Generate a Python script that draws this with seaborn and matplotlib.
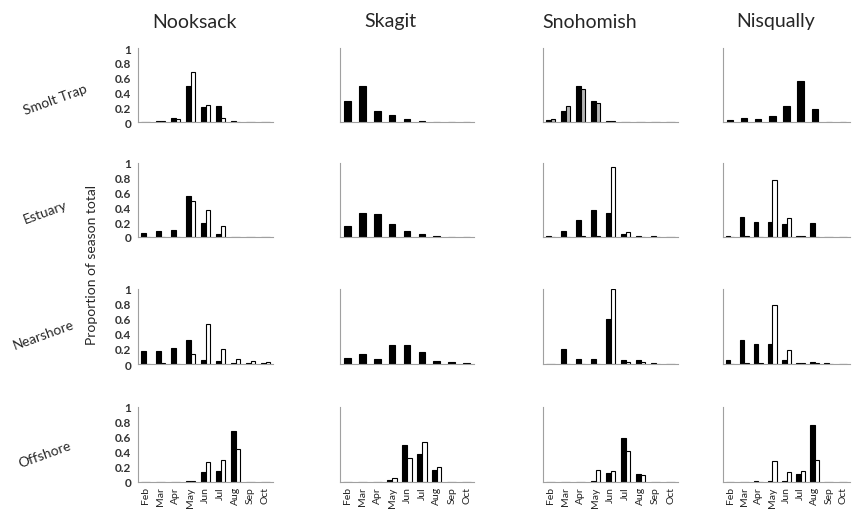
import numpy as np
import pandas as pd
import matplotlib
matplotlib.use("Agg")
import matplotlib.pyplot as plt
import seaborn as sns

months = ["Feb", "Mar", "Apr", "May", "Jun", "Jul", "Aug", "Sep", "Oct"]
rivers = ["Nooksack", "Skagit", "Snohomish", "Nisqually"]
habitats = ["Smolt Trap", "Estuary", "Nearshore", "Offshore"]
nan = np.nan

# first series = black bars, second series = open bars
# ---------------- Nooksack ----------------
nook_trap_a = [0.005, 0.02, 0.05, 0.48, 0.20, 0.22, 0.015, 0, 0]
nook_trap_b = [0.005, 0.01, 0.04, 0.68, 0.23, 0.06, 0.005, 0, 0]
nook_est_a = [0.058, 0.08, 0.093, 0.56, 0.19, 0.035, 0, 0, 0]
nook_est_b = [0, 0, 0, 0.49, 0.37, 0.155, 0, 0, 0]
nook_near_a = [0.18, 0.17, 0.21, 0.32, 0.06, 0.035, 0.01, 0.01, 0.01]
nook_near_b = [0, 0.01, 0, 0.14, 0.54, 0.20, 0.07, 0.035, 0.025]
nook_off_a = [0, 0, 0, 0.01, 0.13, 0.15, 0.68, 0, 0]
nook_off_b = [0, 0, 0, 0.02, 0.27, 0.29, 0.44, 0, 0]

# ---------------- Skagit ----------------
skag_trap_a = [0.29, 0.49, 0.145, 0.10, 0.035, 0.02, 0, 0, 0]
skag_trap_b = [nan] * 9
skag_est_a = [0.15, 0.33, 0.31, 0.17, 0.08, 0.035, 0.02, 0, 0]
skag_est_b = [nan] * 9
skag_near_a = [0.08, 0.13, 0.07, 0.25, 0.255, 0.16, 0.045, 0.025, 0.01]
skag_near_b = [nan] * 9
skag_off_a = [0, 0, 0, 0.03, 0.50, 0.38, 0.16, 0, 0]
skag_off_b = [0, 0, 0, 0.05, 0.32, 0.53, 0.20, 0, 0]

# ---------------- Snohomish ----------------
snoh_trap_a = [0.027, 0.155, 0.49, 0.28, 0.02, 0, 0, 0, 0]
snoh_trap_b = [0.045, 0.22, 0.45, 0.26, 0.02, 0, 0, 0, 0]
snoh_est_a = [0.013, 0.08, 0.23, 0.37, 0.33, 0.035, 0.013, 0.013, 0]
snoh_est_b = [0, 0, 0.01, 0.01, 0.94, 0.067, 0, 0, 0]
snoh_near_a = [0, 0.195, 0.07, 0.062, 0.60, 0.05, 0.05, 0.01, 0]
snoh_near_b = [0, 0, 0, 0, 1.0, 0.027, 0.027, 0, 0]
snoh_off_a = [0, 0, 0, 0.01, 0.12, 0.59, 0.11, 0, 0]
snoh_off_b = [0, 0, 0, 0.16, 0.15, 0.41, 0.09, 0, 0]

# ---------------- Nisqually ----------------
nisq_trap_a = [0.027, 0.06, 0.045, 0.077, 0.21, 0.56, 0.17, 0, 0]
nisq_trap_b = [nan] * 9
nisq_est_a = [0.013, 0.27, 0.20, 0.20, 0.17, 0.02, 0.19, 0, 0]
nisq_est_b = [0, 0.01, 0, 0.77, 0.26, 0.02, 0, 0, 0]
nisq_near_a = [0.053, 0.32, 0.27, 0.27, 0.053, 0.01, 0.03, 0.01, 0]
nisq_near_b = [0, 0.01, 0.01, 0.79, 0.19, 0.01, 0.01, 0, 0]
nisq_off_a = [0, 0, 0.01, 0.02, 0.02, 0.11, 0.76, 0, 0]
nisq_off_b = [0, 0, 0, 0.28, 0.14, 0.15, 0.30, 0, 0]

panels = {
    ("Nooksack", "Smolt Trap"): (nook_trap_a, nook_trap_b),
    ("Nooksack", "Estuary"): (nook_est_a, nook_est_b),
    ("Nooksack", "Nearshore"): (nook_near_a, nook_near_b),
    ("Nooksack", "Offshore"): (nook_off_a, nook_off_b),
    ("Skagit", "Smolt Trap"): (skag_trap_a, skag_trap_b),
    ("Skagit", "Estuary"): (skag_est_a, skag_est_b),
    ("Skagit", "Nearshore"): (skag_near_a, skag_near_b),
    ("Skagit", "Offshore"): (skag_off_a, skag_off_b),
    ("Snohomish", "Smolt Trap"): (snoh_trap_a, snoh_trap_b),
    ("Snohomish", "Estuary"): (snoh_est_a, snoh_est_b),
    ("Snohomish", "Nearshore"): (snoh_near_a, snoh_near_b),
    ("Snohomish", "Offshore"): (snoh_off_a, snoh_off_b),
    ("Nisqually", "Smolt Trap"): (nisq_trap_a, nisq_trap_b),
    ("Nisqually", "Estuary"): (nisq_est_a, nisq_est_b),
    ("Nisqually", "Nearshore"): (nisq_near_a, nisq_near_b),
    ("Nisqually", "Offshore"): (nisq_off_a, nisq_off_b),
}

sns.set_style("white")
plt.rcParams["font.family"] = ["Lato", "DejaVu Sans"]

W, H = 856, 510
fig = plt.figure(figsize=(W / 100, H / 100), dpi=100)

# panel boxes in pixels: (left, right) per column, (y of 1, y of 0) per row
col_px = [(138, 273), (340, 474), (543, 678), (723, 850)]
row_px = [(49, 123), (164, 238), (290, 365), (408, 483)]

for ci, river in enumerate(rivers):
    for ri, hab in enumerate(habitats):
        x0, x1 = col_px[ci]
        y1, y0 = row_px[ri]
        ax = fig.add_axes([x0 / W, 1 - y0 / H, (x1 - x0) / W, (y0 - y1) / H])
        a, b = panels[(river, hab)]
        df = pd.DataFrame({
            "month": months * 2,
            "series": ["a"] * 9 + ["b"] * 9,
            "value": list(a) + list(b),
        }).dropna()
        single = df["series"].nunique() == 1
        second = "#b5b5b5" if (river, hab) == ("Snohomish", "Smolt Trap") else "white"
        sns.barplot(data=df, x="month", y="value", hue="series",
                    order=months, hue_order=["a", "b"],
                    palette={"a": "black", "b": second},
                    edgecolor="black", linewidth=0.8,
                    width=0.45 if single else 0.62,
                    errorbar=None, legend=False, ax=ax)
        ax.set_xlim(-0.5, 8.5)
        ax.set_ylim(0, 1)
        ax.set_xlabel("")
        ax.set_ylabel("")
        for s in ["top", "right"]:
            ax.spines[s].set_visible(False)
        for s in ["left", "bottom"]:
            ax.spines[s].set_color("#a0a0a0")
            ax.spines[s].set_linewidth(0.8)
        ax.set_xticks(np.arange(-0.5, 9, 1), minor=True)
        ax.tick_params(axis="x", which="minor", length=3, color="#a0a0a0", width=0.7)
        ax.set_xticks(range(9))
        if ri == 3:
            ax.set_xticklabels(months, rotation=90, fontsize=7.5, color="#222")
        else:
            ax.set_xticklabels([])
        ax.tick_params(axis="x", which="major", length=0, pad=3)
        ax.set_yticks([0, 0.2, 0.4, 0.6, 0.8, 1.0])
        ax.tick_params(axis="y", length=3, color="#a0a0a0", width=0.7, pad=2)
        if ci == 0:
            ax.set_yticklabels(["0", "0.2", "0.4", "0.6", "0.8", "1"],
                               fontsize=8.5, fontweight="bold", color="#333")
        else:
            ax.set_yticklabels([])

# column titles
for river, cx in zip(rivers, [195, 390, 590, 776]):
    fig.text(cx / W, 1 - 22 / H, river, ha="center", va="center", fontsize=14)

# row labels
for hab, (cx, cy) in zip(habitats, [(55, 100), (45, 213), (44, 335), (45, 455)]):
    fig.text(cx / W, 1 - cy / H, hab, ha="center", va="center", fontsize=10, rotation=20)

fig.text(92 / W, 1 - 265 / H, "Proportion of season total", ha="center", va="center",
         fontsize=10, rotation=90)

fig.savefig("out.png", dpi=100)
